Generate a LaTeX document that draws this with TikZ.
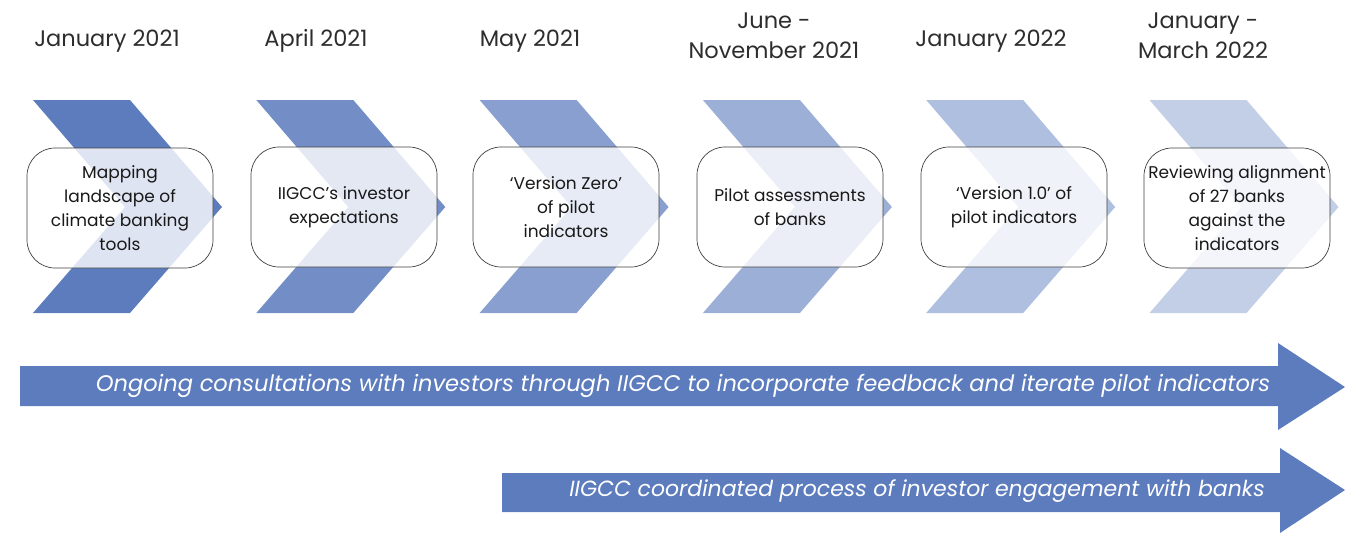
\documentclass[tikz,border=0pt]{standalone}
\usepackage{fontspec}
\setmainfont{Poppins}
\definecolor{chev}{RGB}{92,124,190}
\definecolor{datecol}{RGB}{45,45,45}
\begin{document}
\begin{tikzpicture}[x=1pt,y=-1pt,
  chevshape/.style={fill=chev,draw=none},
  stepbox/.style={draw=black!75,line width=0.7pt,rounded corners=28pt,fill=white,fill opacity=0.8,text opacity=1,
     minimum width=186pt,minimum height=120pt,align=center,text=black!90,font=\fontsize{17}{24}\selectfont,inner sep=0pt},
  datelabel/.style={align=center,text=datecol,font=\fontsize{22.5}{30}\selectfont},
  bigarrow/.style={fill=chev,draw=none},
  arrowtext/.style={text=white,font=\fontsize{22}{24}\itshape\selectfont}]
\useasboundingbox (0,0) rectangle (1345,533);
% chevrons
\foreach \i/\op in {0/1,1/0.86,2/0.73,3/0.61,4/0.49,5/0.37}{
  \pgfmathsetmacro{\xo}{33+223.3*\i}
  \fill[chevshape,fill opacity=\op] (\xo,100) -- (\xo+97,100) -- (\xo+189,207) -- (\xo+97,313) -- (\xo,313) -- (\xo+92,207) -- cycle;
}
% boxes
\node[stepbox] (b1) at (120,208) {Mapping\\landscape of\\climate banking\\tools};
\node[stepbox] (b2) at (344,207) {IIGCC’s investor\\expectations};
\node[stepbox] (b3) at (566,207) {‘Version Zero’\\of pilot\\indicators};
\node[stepbox] (b4) at (790,207) {Pilot assessments\\of banks};
\node[stepbox] (b5) at (1014,207) {‘Version 1.0’ of\\pilot indicators};
\node[stepbox] (b6) at (1237,208) {Reviewing alignment\\of 27 banks\\against the\\indicators};
% dates
\node[datelabel] (d1) at (107,41) {January 2021};
\node[datelabel] (d2) at (316,41) {April 2021};
\node[datelabel] (d3) at (530,41) {May 2021};
\node[datelabel] (d4) at (774,36) {June -\\November 2021};
\node[datelabel] (d5) at (991,41) {January 2022};
\node[datelabel] (d6) at (1203,36) {January -\\March 2022};
% big arrows
\fill[bigarrow] (20,366) -- (1278,366) -- (1278,343) -- (1345,387) -- (1278,430) -- (1278,406) -- (20,406) -- cycle;
\node[arrowtext,font=\fontsize{22.6}{24}\itshape\selectfont] (t1) at (683,386) {Ongoing consultations with investors through IIGCC to incorporate feedback and iterate pilot indicators};
\fill[bigarrow] (502,473) -- (1280,473) -- (1280,448) -- (1345,490) -- (1280,533) -- (1280,512) -- (502,512) -- cycle;
\node[arrowtext] (t2) at (917,491) {IIGCC coordinated process of investor engagement with banks};
\end{tikzpicture}
\end{document}
